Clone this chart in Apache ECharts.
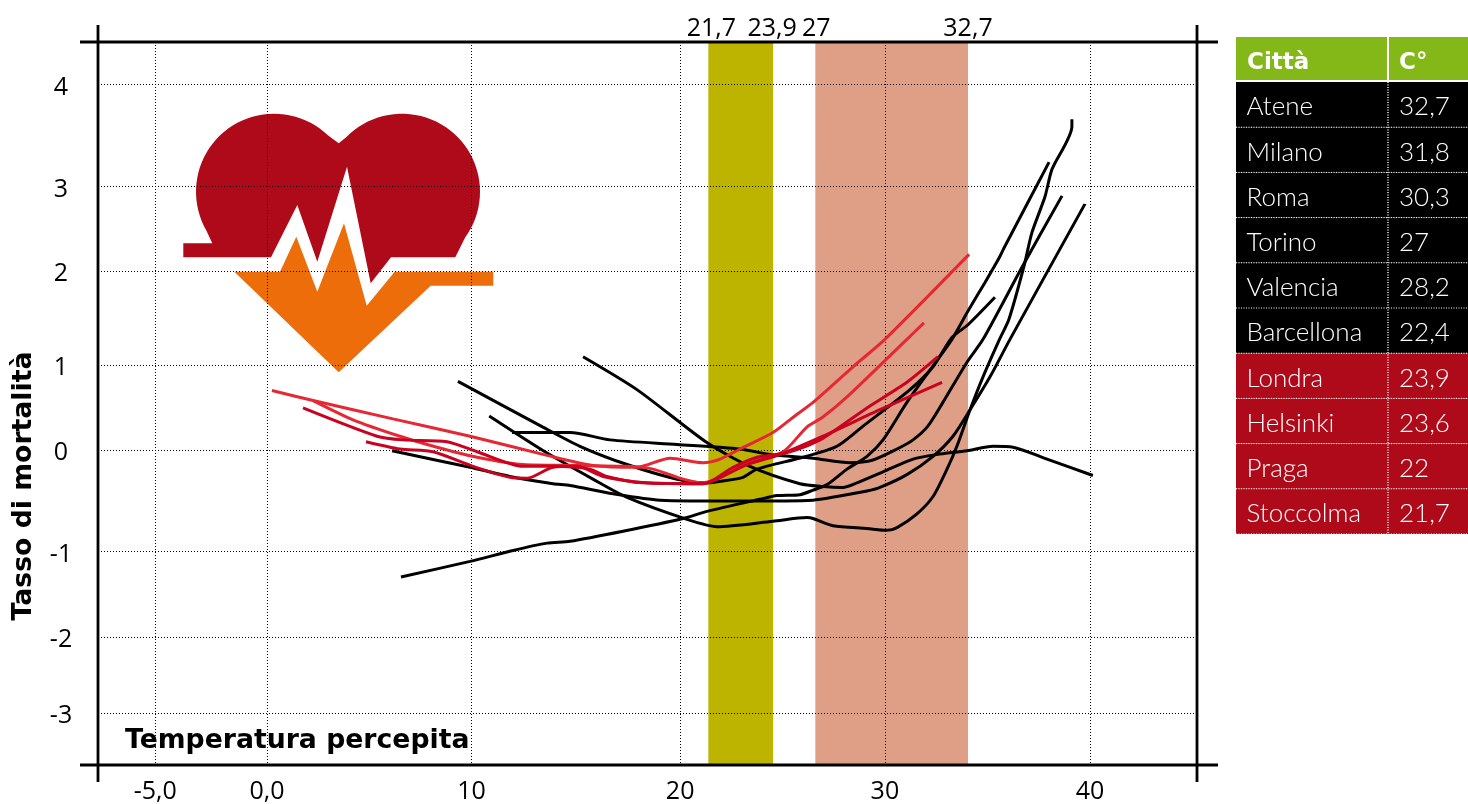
<!DOCTYPE html>
<html>
<head>
<meta charset="utf-8">
<style>html,body{margin:0;padding:0;background:#fff}#c{width:1468px;height:804px}</style>
<script src="https://cdn.jsdelivr.net/npm/echarts@6/dist/echarts.min.js"></script>
</head>
<body>
<div id="c"></div>
<script>
// Table
const cities = ['Atene','Milano','Roma','Torino','Valencia','Barcellona','Londra','Helsinki','Praga','Stoccolma'];
const temps = ['32,7','31,8','30,3','27','28,2','22,4','23,9','23,6','22','21,7'];
const tableHeader = ['Città','C°'];

// Axis ticks (the reference's gridlines are unevenly spaced)
const xTickValues = [-5.43, 0, 9.94, 20.08, 30.03, 40];
const xTickLabels = ['-5,0', '0,0', '10', '20', '30', '40'];
const yTickValues = [4, 2.883, 1.954, 0.931, 0, -1.113, -2.046, -2.88];
const yTickLabels = ['4', '3', '2', '1', '0', '-1', '-2', '-3'];
const topTickValues = [21.6, 24.55, 26.7, 34.07];
const topTickLabels = ['21,7', '23,9', '27', '32,7'];

// Temperature bands
const coolBand = [21.45, 24.6];
const warmBand = [26.65, 34.07];

// Black curves
const black1 = [[6.51,-1.39],[9.87,-1.22],[11.96,-1.10],[13.61,-1.02],[14.73,-1.00],[17.30,-0.89],[20.22,-0.75],[21.43,-0.67],[23.96,-0.54],[24.79,-0.50],[25.90,-0.49],[26.54,-0.44],[27.22,-0.38],[28.19,-0.21],[29.16,-0.07],[29.94,0.11],[31.10,0.52],[32.37,0.92],[33.29,1.21],[34.07,1.52],[34.89,1.83],[35.58,2.10],[35.82,2.21],[38.01,3.15]];
const black2 = [[10.80,0.37],[13.43,-0.01],[15.84,-0.32],[17.50,-0.52],[20.41,-0.76],[21.87,-0.84],[24.59,-0.78],[26.24,-0.74],[26.54,-0.75],[27.51,-0.83],[29.16,-0.86],[30.13,-0.88],[30.62,-0.85],[31.59,-0.70],[32.37,-0.51],[33.05,-0.21],[33.53,0.04],[34.17,0.44],[34.80,0.80],[35.60,1.21],[36.06,1.43],[36.79,2.01],[37.18,2.38],[37.81,2.77],[38.15,3.07],[39.12,3.54],[39.12,3.62]];
const black3 = [[15.36,1.02],[17.98,0.66],[21.38,0.08],[23.47,-0.18],[25.90,-0.37],[27.02,-0.40],[27.99,-0.41],[28.67,-0.36],[29.94,-0.24],[31.40,-0.10],[32.56,-0.05],[34.02,-0.01],[35.28,0.04],[36.26,0.03],[37.91,-0.10],[40.14,-0.28]];
const black4 = [[11.91,0.19],[14.73,0.19],[16.67,0.11],[19.93,0.06],[22.99,0.01],[24.45,-0.05],[26.54,-0.09],[28.33,-0.14],[29.45,-0.11],[30.62,0.01],[31.40,0.11],[32.12,0.26],[32.85,0.52],[34.02,0.96],[34.80,1.21],[36.72,2.01],[38.64,2.78]];
const black5 = [[9.28,0.75],[13.41,0.25],[15.21,0.04],[17.50,-0.16],[19.93,-0.32],[21.38,-0.36],[22.16,-0.34],[23.13,-0.30],[23.81,-0.21],[26.05,-0.08],[27.70,0.04],[28.97,0.26],[31.25,0.66],[32.37,0.91],[33.29,1.23],[34.07,1.37],[35.38,1.67]];
const black6 = [[6.08,-0.01],[9.87,-0.19],[11.81,-0.29],[13.90,-0.37],[14.73,-0.39],[16.82,-0.48],[19.10,-0.55],[22.99,-0.56],[26.54,-0.55],[27.70,-0.51],[29.16,-0.45],[29.79,-0.41],[31.10,-0.27],[32.37,-0.07],[33.34,0.15],[34.17,0.44],[35.14,0.80],[36.11,1.21],[39.75,2.69]];

// Red curves
const red1 = [[0.24,0.65],[2.24,0.54],[6.12,0.34],[9.87,0.15],[13.61,-0.06],[15.84,-0.17],[17.98,-0.19],[19.59,-0.09],[21.19,-0.14],[22.02,-0.10],[22.99,0.01],[24.59,0.19],[25.76,0.39],[26.54,0.52],[28.48,0.91],[30.03,1.21],[34.12,2.14]];
const red2 = [[2.24,0.54],[4.18,0.33],[6.46,0.15],[8.26,0.03],[10.21,-0.08],[12.44,-0.16],[15.07,-0.17],[17.50,-0.18],[18.76,-0.21],[20.22,-0.32],[21.19,-0.36],[22.16,-0.29],[23.33,-0.14],[25.08,-0.02],[26.24,0.25],[27.02,0.36],[28.19,0.58],[31.10,1.21],[31.93,1.39]];
const red3 = [[1.75,0.46],[5.35,0.15],[6.61,0.11],[8.75,0.09],[10.21,-0.02],[12.44,-0.18],[13.90,-0.18],[15.70,-0.21],[16.52,-0.29],[18.27,-0.36],[21.19,-0.37],[22.65,-0.19],[23.81,-0.08],[25.27,-0.03],[26.88,0.11],[29.16,0.46],[31.10,0.74],[32.61,1.02]];
const red4 = [[4.81,0.09],[6.46,0.01],[8.07,-0.02],[10.01,-0.18],[11.81,-0.30],[12.64,-0.31],[13.90,-0.19],[15.07,-0.18],[16.33,-0.29],[18.47,-0.36],[21.19,-0.37],[21.68,-0.34],[23.33,-0.16],[24.93,-0.05],[27.02,0.15],[29.79,0.44],[32.81,0.74]];

const BLACK = '#000000', RED_BRIGHT = '#E52833', RED_DEEP = '#C9021F', RED_TABLE = '#AE0A19',
      ORANGE = '#EC6D0A', OLIVE = '#BDB400', SALMON = '#DF9F87', GREEN = '#84B818';
const SANS = '"Open Sans", sans-serif', HEAVY = '"DejaVu Sans", sans-serif', TABLE = 'Lato, sans-serif';

function curve(name, data, color) {
  return { name, type: 'line', data, smooth: 0.25, symbol: 'none', z: 4, silent: true,
    lineStyle: { color, width: 3 } };
}
function lookup(values, labels) {
  return v => { const i = values.findIndex(t => Math.abs(t - v) < 1e-6); return i < 0 ? '' : labels[i]; };
}
function arc(cx, cy, r, a0, a1) {
  const pts = [];
  for (let a = a0; a <= a1; a += 4) pts.push([cx + r * Math.cos(a * Math.PI / 180), cy + r * Math.sin(a * Math.PI / 180)]);
  return pts;
}

// Frame and overhanging axis strokes
const frame = [[98,25,98,782],[1197,25,1197,782],[80,42,1218,42],[80,765,1218,765]].map(p => ({
  type: 'line', z: 6, shape: { x1: p[0], y1: p[1], x2: p[2], y2: p[3] }, style: { stroke: BLACK, lineWidth: 2.8 }
}));

// Heart icon
const heart = {
  type: 'polygon', z: -1,
  shape: { points: [[183.3,243.3],[212.3,243.3]].concat(arc(274,191.7,78,150,316), [[338.7,143.3]], arc(402,191.7,78,224,396), [
    [455.3,257.3],[391,257.3],[370.7,283.3],[347,166.7],[317.3,261.7],[297.3,205],[271,257.3],[183.3,257.3]]) },
  style: { fill: RED_TABLE }
};
const heartBase = {
  type: 'polygon', z: -1,
  shape: { points: [[234.3,271.7],[280,271.7],[296.3,236.7],[317.3,291.7],[344,223.3],[366.7,305.7],[394.7,271.7],[493.3,271.7],[493.3,285.7],[430.7,285.7],[338.7,372.3]] },
  style: { fill: ORANGE }
};

// Table
const COL1 = 1236, COL2 = 1389, TABLE_END = 1468, HEAD_TOP = 37, HEAD_H = 43, ROW_TOP = 82, ROW_H = 45.2;
const tableEls = [];
function cell(x, y, w, h, fill) { tableEls.push({ type: 'rect', z: 5, shape: { x, y, width: w, height: h }, style: { fill } }); }
function label(x, y, text, font) {
  tableEls.push({ type: 'text', z: 7, x, y, style: { text, fill: '#fff', font, textAlign: 'left', textVerticalAlign: 'middle' } });
}
cell(COL1, HEAD_TOP, COL2 - 2 - COL1, HEAD_H, GREEN);
cell(COL2, HEAD_TOP, TABLE_END - COL2, HEAD_H, GREEN);
label(1247, HEAD_TOP + 26, tableHeader[0], 'bold 23px ' + HEAVY);
label(1399, HEAD_TOP + 26, tableHeader[1], 'bold 23px ' + HEAVY);
cities.forEach((city, i) => {
  const y = ROW_TOP + i * ROW_H, fill = i < 6 ? BLACK : RED_TABLE;
  cell(COL1, y, TABLE_END - COL1, ROW_H, fill);
  label(1246.5, y + ROW_H / 2 + 2.5, city, '300 26px ' + TABLE);
  label(1399, y + ROW_H / 2 + 2.5, temps[i], '300 26px ' + TABLE);
  tableEls.push({ type: 'line', z: 6, shape: { x1: COL1, y1: y + ROW_H, x2: TABLE_END, y2: y + ROW_H },
    style: { stroke: '#fff', lineWidth: 1, lineDash: [1, 1.5] } });
});
tableEls.push({ type: 'line', z: 6, shape: { x1: 1388, y1: ROW_TOP, x2: 1388, y2: ROW_TOP + 10 * ROW_H },
  style: { stroke: '#fff', lineWidth: 1.4, lineDash: [1, 1.5] } });

const titles = [
  { type: 'text', z: 7, x: 24, y: 486, rotation: Math.PI / 2,
    style: { text: 'Tasso di mortalità', fill: BLACK, font: 'bold 26.7px ' + HEAVY, textAlign: 'center', textVerticalAlign: 'middle' } },
  { type: 'text', z: 7, x: 125, y: 741,
    style: { text: 'Temperatura percepita', fill: BLACK, font: 'bold 26.7px ' + HEAVY, textAlign: 'left', textVerticalAlign: 'middle' } }
];

const dotted = { show: true, lineStyle: { color: BLACK, width: 1, type: [1, 2] } };
const option = {
  animation: false,
  backgroundColor: '#fff',
  grid: { left: 98, right: 271, top: 42, bottom: 39 },
  xAxis: [
    { type: 'value', position: 'bottom', min: -8.214, max: 45.2, z: 2,
      axisLine: { show: false }, axisTick: { show: false, customValues: xTickValues },
      splitLine: dotted,
      axisLabel: { customValues: xTickValues, margin: 15, fontSize: 25, color: BLACK, fontFamily: SANS,
        hideOverlap: false, formatter: lookup(xTickValues, xTickLabels) } },
    { type: 'value', position: 'top', min: -8.214, max: 45.2, z: 2,
      axisLine: { show: false }, axisTick: { show: false, customValues: topTickValues },
      splitLine: { show: false },
      axisLabel: { customValues: topTickValues, margin: 1, fontSize: 25, color: BLACK, fontFamily: SANS,
        hideOverlap: false, formatter: lookup(topTickValues, topTickLabels) } }
  ],
  yAxis: {
    type: 'value', min: -3.437, max: 4.464, z: 2,
    axisLine: { show: false }, axisTick: { show: false, customValues: yTickValues },
    splitLine: dotted,
    axisLabel: { customValues: yTickValues, margin: 37, align: 'center', verticalAlign: 'top', lineHeight: 6,
      fontSize: 25, color: BLACK, fontFamily: SANS,
      hideOverlap: false, formatter: lookup(yTickValues, yTickLabels) }
  },
  series: [
    { name: 'bands', type: 'line', data: [], z: 1, silent: true,
      markArea: { silent: true, z: 1, data: [
        [{ xAxis: coolBand[0], itemStyle: { color: OLIVE, opacity: 1 } }, { xAxis: coolBand[1] }],
        [{ xAxis: warmBand[0], itemStyle: { color: SALMON, opacity: 1 } }, { xAxis: warmBand[1] }]
      ] } },
    curve('black1', black1, BLACK), curve('black2', black2, BLACK), curve('black3', black3, BLACK),
    curve('black4', black4, BLACK), curve('black5', black5, BLACK), curve('black6', black6, BLACK),
    curve('red1', red1, RED_BRIGHT), curve('red2', red2, RED_BRIGHT),
    curve('red3', red3, RED_DEEP), curve('red4', red4, RED_DEEP)
  ],
  graphic: { elements: [heart, heartBase].concat(frame, titles, tableEls) }
};
echarts.init(document.getElementById('c'), null, { renderer: 'canvas' }).setOption(option);
</script>
</body>
</html>
